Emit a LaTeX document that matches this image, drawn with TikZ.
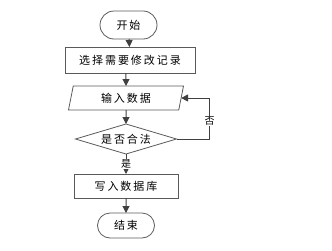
\documentclass[tikz,border=0pt]{standalone}
\usepackage{fontspec}
\newfontfamily\cjk[LetterSpace=18]{Noto Sans CJK SC}
\usetikzlibrary{positioning,arrows.meta,shapes.geometric,shapes.misc}
\definecolor{lineclr}{HTML}{404040}
\definecolor{edgeclr}{HTML}{5A5A5A}

\begin{document}
\begin{tikzpicture}[
      x=1pt, y=1pt,
      font=\fontsize{11}{13}\selectfont\cjk,
      base/.style={draw=edgeclr, line width=0.8pt, inner sep=0pt, outer sep=0pt, align=center},
      term/.style={base, rounded rectangle, minimum width=57pt, minimum height=28pt},
      proc/.style={base, rectangle, minimum height=26pt},
      io/.style={base, trapezium, trapezium left angle=65, trapezium right angle=115,
                 trapezium stretches body, minimum width=115pt, minimum height=24pt},
      decide/.style={base, diamond, aspect=3.4, minimum width=101pt, minimum height=30pt},
      arrow/.style={-{Triangle[length=7pt,width=7pt]}, draw=lineclr, line width=1pt},
      tag/.style={fill=white, inner sep=1pt, font=\fontsize{10}{12}\selectfont\cjk}
    ]
    \useasboundingbox (0,0) rectangle (332,250);

    \node[term]                                   (start)  at (128.5,225) {开始};
    \node[proc, below=8pt of start, minimum width=130pt, xshift=1.5pt] (select) {选择需要修改记录};
    \node[io, below=13pt of select, xshift=-4pt]  (input)  {输入数据};
    \node[decide, below=14pt of input]            (check)  {是否合法};
    \node[proc, below=20pt of check, minimum width=104pt, minimum height=24pt] (write) {写入数据库};
    \node[term, below=15pt of write, minimum height=25pt] (stop) {结束};

    \draw[arrow] (start) -- (select);
    \draw[arrow] (select.south -| input) -- (input);
    \draw[arrow] (input) -- (check);
    \draw[arrow] (check) -- node[tag] {是} (write);
    \draw[arrow] (check.east) -- ++(33,0) |- node[tag, pos=0.22] {否} (input.east);
    \draw[arrow] (write) -- (stop);
  \end{tikzpicture}
\end{document}
